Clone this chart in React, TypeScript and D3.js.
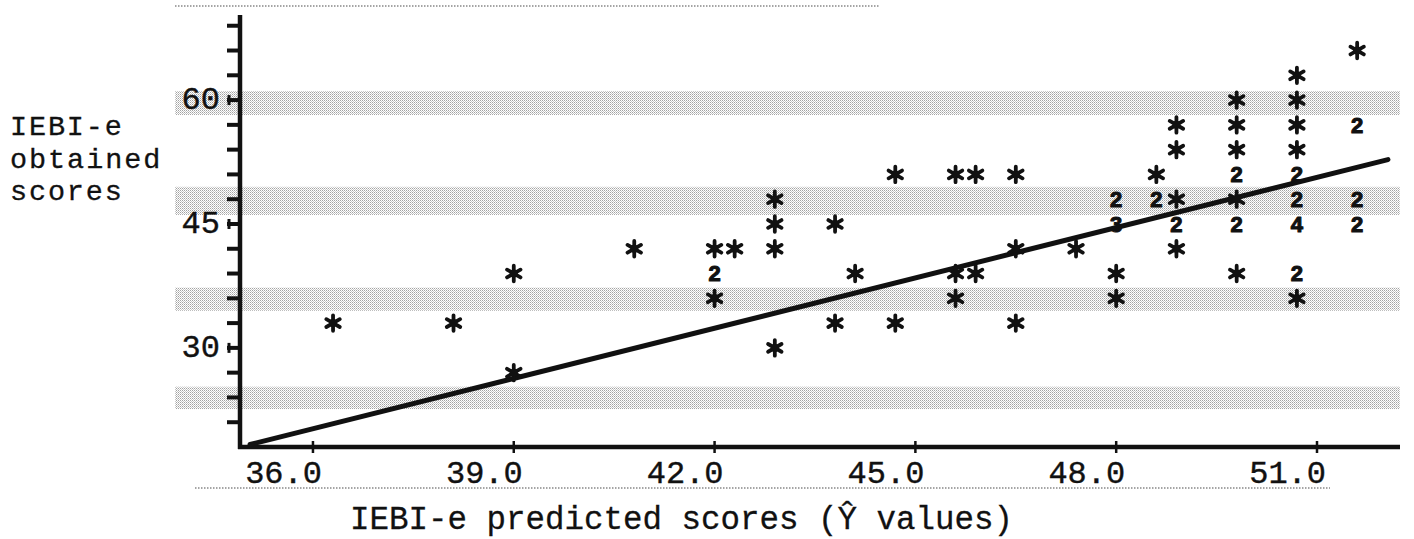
import React from "react";
import * as d3 from "d3";

// ---------- data ----------
const xTickValues = [36, 39, 42, 45, 48, 51];
const yTickLabels = [30, 45, 60];
const yMinorTicks = [21, 24, 27, 30, 33, 36, 39, 42, 45, 48, 51, 54, 57, 60, 63, 66, 69];
const xDomain = [34.91, 52.24];
const yDomain = [18.0, 70.3];

// scatter points (predicted, obtained, printed mark: "*" = one case, digit = count)
const pointX = [
  36.3, 38.1, 39.0, 39.0, 40.8, 42.0, 42.3, 42.0, 42.0, 42.9,
  42.9, 42.9, 42.9, 43.8, 44.1, 43.8, 44.7, 44.7, 45.6, 45.9,
  46.5, 45.6, 45.9, 45.6, 46.5, 46.5, 47.4, 48.0, 48.0, 48.0,
  48.0, 48.6, 48.6, 48.9, 48.9, 48.9, 48.9, 48.9, 49.8, 49.8,
  49.8, 49.8, 49.8, 49.8, 49.8, 50.7, 50.7, 50.7, 50.7, 50.7,
  50.7, 50.7, 50.7, 50.7, 51.6, 51.6, 51.6, 51.6,
];
const pointY = [
  33, 33, 39, 27, 42, 42, 42, 39, 36, 48,
  45, 42, 30, 45, 39, 33, 51, 33, 51, 51,
  51, 39, 39, 36, 42, 33, 42, 48, 45, 39,
  36, 51, 48, 48, 57, 54, 45, 42, 60, 57,
  54, 51, 48, 45, 39, 63, 60, 57, 54, 51,
  48, 45, 39, 36, 66, 57, 48, 45,
];
const pointMark = [
  "*", "*", "*", "*", "*", "*", "*", "2", "*", "*",
  "*", "*", "*", "*", "*", "*", "*", "*", "*", "*",
  "*", "*", "*", "*", "*", "*", "*", "2", "3", "*",
  "*", "*", "2", "*", "*", "*", "2", "*", "*", "*",
  "*", "2", "*", "2", "*", "*", "*", "*", "*", "2",
  "2", "4", "2", "*", "*", "2", "2", "2",
];

// fitted regression line endpoints
const fitX = [35.06, 52.06];
const fitY = [18.3, 52.8];

// halftone bands from the scan (obtained-score ranges)
const bandLow = [58.2, 46.1, 34.5, 22.6];
const bandHigh = [61.1, 49.5, 37.3, 25.3];

const yTitleLines = ["IEBI-e", "obtained", "scores"];
const xTitle = "IEBI-e predicted scores (\u0176 values)";

// ---------- layout ----------
const W = 1414;
const H = 539;
const left = 240;
const right = 1400;
const top = 15;
const bottom = 447;
const MONO = "'Liberation Mono', 'DejaVu Sans Mono', monospace";
const INK = "#111";

export default function App() {
  const x = d3.scaleLinear().domain(xDomain).range([left, right]);
  const y = d3.scaleLinear().domain(yDomain).range([bottom, top]);
  const star = d3.symbol().type(d3.symbolAsterisk).size(170)();
  const fitLine = d3
    .line<number>()
    .x((d, i) => x(fitX[i]))
    .y((d, i) => y(fitY[i]));

  return (
    <svg
      width={W}
      height={H}
      style={{ position: "absolute", left: 0, top: 0, background: "#fff" }}
    >
      <defs>
        <pattern id="halftone" width={2} height={2} patternUnits="userSpaceOnUse">
          <rect x={0} y={0} width={1} height={1} fill="#7a7a7a" />
          <rect x={1} y={1} width={1} height={1} fill="#b0b0b0" />
        </pattern>
      </defs>

      {/* scan bands */}
      {bandLow.map((lo, i) => (
        <rect
          key={"b" + i}
          x={175}
          y={y(bandHigh[i])}
          width={1225}
          height={y(lo) - y(bandHigh[i])}
          fill="url(#halftone)"
          opacity={0.7}
        />
      ))}

      {/* faint dotted scan lines */}
      <line x1={175} x2={880} y1={6} y2={6} stroke="#888" strokeWidth={1.5} strokeDasharray="1.5 1.5" />
      <line x1={195} x2={1330} y1={488} y2={488} stroke="#888" strokeWidth={1.5} strokeDasharray="1.5 1.5" />

      {/* y minor ticks */}
      {yMinorTicks.map((v) => (
        <line key={"ym" + v} x1={left - 13} x2={left} y1={y(v)} y2={y(v)} stroke={INK} strokeWidth={4} />
      ))}
      {/* y labelled ticks */}
      {yTickLabels.map((v) => (
        <g key={"yl" + v}>
          <line x1={left - 11} x2={left - 11} y1={y(v) - 5} y2={y(v) + 5} stroke={INK} strokeWidth={3} />
          <text
            x={left - 20}
            y={y(v) + 9}
            textAnchor="end"
            fontFamily={MONO}
            fontSize={32}
            fill={INK}
            stroke={INK}
            strokeWidth={0.4}
          >
            {v}
          </text>
        </g>
      ))}

      {/* x ticks and labels */}
      {xTickValues.map((v) => (
        <g key={"x" + v}>
          <line x1={x(v)} x2={x(v)} y1={bottom - 6} y2={bottom + 6} stroke={INK} strokeWidth={2.5} />
          <text
            x={x(v) + 9}
            y={483}
            textAnchor="end"
            fontFamily={MONO}
            fontSize={32}
            fill={INK}
            stroke={INK}
            strokeWidth={0.4}
          >
            {v.toFixed(1)}
          </text>
        </g>
      ))}

      {/* axes */}
      <line x1={left} x2={left} y1={top} y2={bottom + 2} stroke={INK} strokeWidth={4.5} />
      <line x1={left - 2} x2={right} y1={bottom} y2={bottom} stroke={INK} strokeWidth={4.5} />

      {/* regression line */}
      <path d={fitLine(fitX) || ""} fill="none" stroke={INK} strokeWidth={5} strokeLinecap="round" />

      {/* points */}
      {pointX.map((px, i) =>
        pointMark[i] === "*" ? (
          <g key={"p" + i} transform={`translate(${x(px)},${y(pointY[i])})`}>
            <path d={star || ""} fill="none" stroke={INK} strokeWidth={3.8} strokeLinecap="round" />
            <circle r={4} fill={INK} />
          </g>
        ) : (
          <text
            key={"p" + i}
            x={x(px)}
            y={y(pointY[i])}
            dy="0.36em"
            textAnchor="middle"
            fontFamily="'Liberation Sans', Arial, sans-serif"
            fontWeight="bold"
            fontSize={22}
            fill={INK}
            stroke={INK}
            strokeWidth={1.1}
            strokeLinejoin="round"
          >
            {pointMark[i]}
          </text>
        )
      )}

      {/* y title */}
      {yTitleLines.map((t, i) => (
        <text
          key={"yt" + i}
          x={10}
          y={135 + i * 32.5}
          fontFamily={MONO}
          fontSize={28.5}
          textLength={t.length * 19.3 - 4}
          lengthAdjust="spacing"
          fill={INK}
          stroke={INK}
          strokeWidth={0.3}
        >
          {t}
        </text>
      ))}

      {/* x title */}
      <text
        x={350}
        y={529}
        fontFamily={MONO}
        fontSize={32.5}
        fill={INK}
        stroke={INK}
        strokeWidth={0.3}
      >
        {xTitle}
      </text>
    </svg>
  );
}
